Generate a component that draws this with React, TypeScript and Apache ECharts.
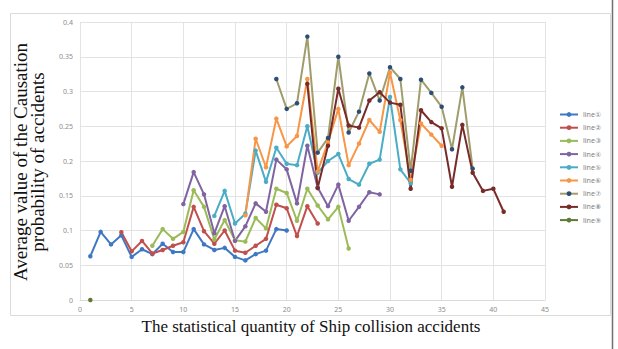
import React, { useEffect, useRef } from "react";
import * as echarts from "echarts";

// Average causation probability per statistical quantity of collision accidents
const seriesNames = ["line①", "line②", "line③", "line④", "line⑤", "line⑥", "line⑦", "line⑧", "line⑨"];
const seriesStarts = [1, 4, 7, 10, 13, 16, 19, 22, 1];

const line1 = [0.063, 0.098, 0.080, 0.093, 0.062, 0.073, 0.066, 0.081, 0.069, 0.069, 0.102, 0.080, 0.072, 0.075, 0.062, 0.057, 0.066, 0.071, 0.102, 0.100];
const line2 = [0.0975, 0.070, 0.085, 0.067, 0.072, 0.078, 0.083, 0.134, 0.099, 0.081, 0.100, 0.071, 0.068, 0.078, 0.088, 0.137, 0.132, 0.092, 0.135, 0.110];
const line3 = [0.078, 0.102, 0.088, 0.098, 0.158, 0.134, 0.087, 0.115, 0.086, 0.084, 0.118, 0.103, 0.160, 0.154, 0.114, 0.160, 0.136, 0.116, 0.134, 0.074];
const line4 = [0.138, 0.184, 0.152, 0.096, 0.135, 0.085, 0.106, 0.139, 0.127, 0.202, 0.188, 0.139, 0.222, 0.162, 0.135, 0.166, 0.114, 0.134, 0.155, 0.152];
const line5 = [0.121, 0.157, 0.110, 0.124, 0.215, 0.170, 0.219, 0.196, 0.194, 0.250, 0.183, 0.200, 0.210, 0.174, 0.166, 0.196, 0.202, 0.292, 0.188, 0.168];
const line6 = [0.122, 0.232, 0.191, 0.261, 0.221, 0.236, 0.318, 0.185, 0.227, 0.275, 0.194, 0.225, 0.259, 0.242, 0.327, 0.259, 0.173, 0.254, 0.238, 0.222];
const line7 = [0.318, 0.275, 0.283, 0.379, 0.212, 0.233, 0.350, 0.241, 0.271, 0.326, 0.287, 0.335, 0.318, 0.186, 0.317, 0.298, 0.278, 0.217, 0.306, 0.189];
const line8 = [0.311, 0.161, 0.222, 0.304, 0.251, 0.248, 0.287, 0.299, 0.284, 0.281, 0.160, 0.273, 0.256, 0.247, 0.163, 0.252, 0.183, 0.157, 0.160, 0.127];
const line9 = [0];

const seriesValues = [line1, line2, line3, line4, line5, line6, line7, line8, line9];

const lineColors = ["#3f78c2", "#c0504d", "#9bbb59", "#8064a2", "#4bacc6", "#f79646", "#a09d6c", "#772c2a", "#5f7a32"];
const markerColors = ["#3f78c2", "#c0504d", "#9bbb59", "#8064a2", "#4bacc6", "#f79646", "#2c4d75", "#772c2a", "#5f7a32"];

const xTitle = "The statistical quantity of Ship collision accidents";
const yTitle = "Average value of the Causation\nprobability of accidents";

export default function App() {
  const ref = useRef<HTMLDivElement>(null);

  useEffect(() => {
    document.body.style.margin = "0";
    const chart = echarts.init(ref.current!, null, { renderer: "svg" });

    const series = seriesValues.map((vals, k) => ({
      name: seriesNames[k],
      type: "line",
      data: vals.map((v, i) => [seriesStarts[k] + i, v]),
      symbol: "circle",
      symbolSize: 4.5,
      showSymbol: true,
      lineStyle: { color: lineColors[k], width: 2 },
      itemStyle: { color: markerColors[k] },
      emphasis: { disabled: true },
    }));

    chart.setOption({
      animation: false,
      backgroundColor: "#ffffff",
      grid: { left: 80, top: 22, width: 465, height: 278, containLabel: false },
      legend: {
        orient: "vertical",
        left: 554,
        top: 106,
        itemWidth: 18,
        itemHeight: 6,
        itemGap: 6.2,
        textStyle: { fontSize: 7, color: "#808080", fontFamily: "Noto Sans" },
        data: seriesNames,
      },
      xAxis: {
        type: "value",
        min: 0,
        max: 45,
        interval: 5,
        axisLine: { show: true, lineStyle: { color: "#d9d9d9" } },
        axisTick: { show: false },
        axisLabel: { fontSize: 7, color: "#8c8c8c", margin: 6, fontFamily: "Noto Sans" },
        splitLine: { show: true, lineStyle: { color: "#e3e3e3", width: 1 } },
      },
      yAxis: {
        type: "value",
        min: 0,
        max: 0.4,
        interval: 0.05,
        axisLine: { show: false },
        axisTick: { show: false },
        axisLabel: { fontSize: 7, color: "#8c8c8c", margin: 7, fontFamily: "Noto Sans" },
        splitLine: { show: true, lineStyle: { color: "#e3e3e3", width: 1 } },
      },
      graphic: [
        {
          type: "rect",
          shape: { x: 10.5, y: 13.5, width: 600, height: 302 },
          style: { fill: "none", stroke: "#dadada", lineWidth: 1 },
          silent: true,
        },
        {
          type: "line",
          shape: { x1: 612.5, y1: 0, x2: 612.5, y2: 349 },
          style: { stroke: "#707070", lineWidth: 1.5 },
          silent: true,
        },
        {
          type: "text",
          x: 311,
          y: 326,
          style: {
            text: xTitle,
            font: "17px 'Liberation Serif'",
            fill: "#111111",
            textAlign: "center",
            textVerticalAlign: "middle",
          },
          silent: true,
        },
        {
          type: "text",
          x: 29,
          y: 162,
          rotation: Math.PI / 2,
          style: {
            text: yTitle,
            font: "19px 'Liberation Serif'",
            lineHeight: 17,
            fill: "#111111",
            textAlign: "center",
            textVerticalAlign: "middle",
          },
          silent: true,
        },
      ],
      series,
    });

    return () => chart.dispose();
  }, []);

  return <div ref={ref} style={{ width: 618, height: 349 }} />;
}
